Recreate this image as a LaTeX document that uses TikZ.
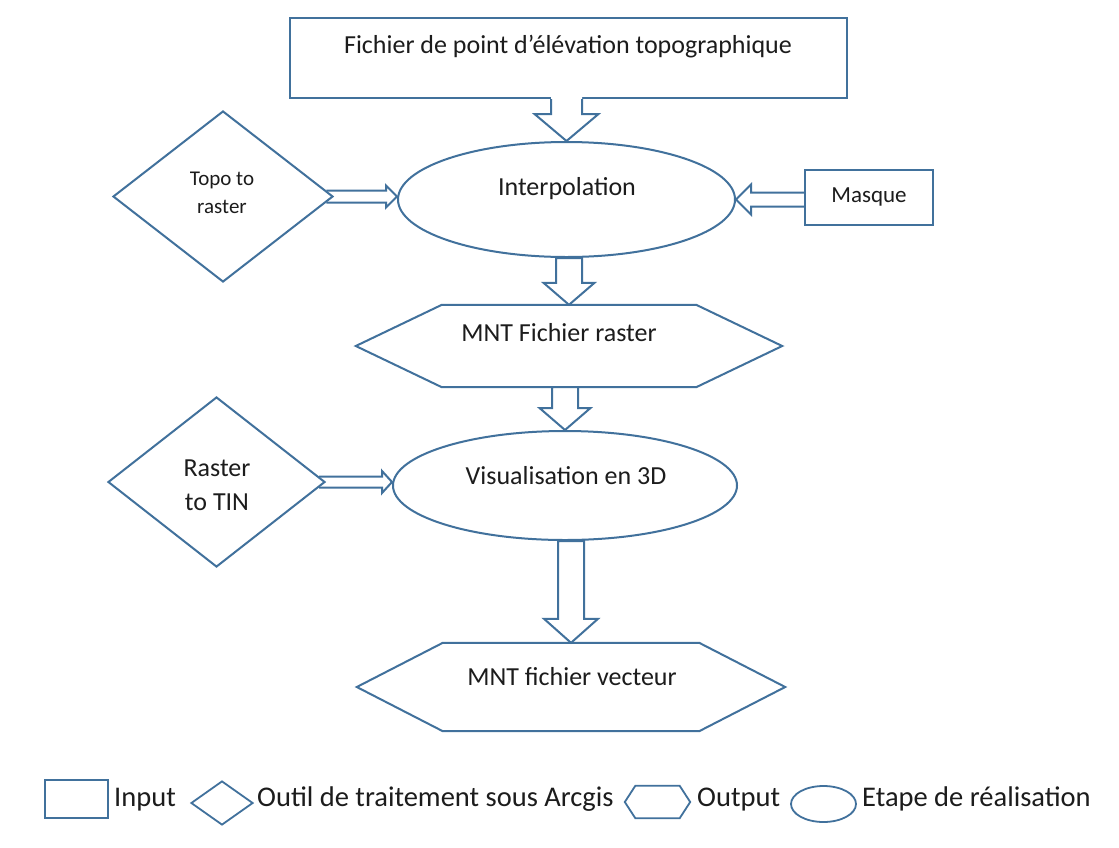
\documentclass[tikz,border=0pt]{standalone}
\usepackage{fontspec}
\setmainfont{Carlito}
\usetikzlibrary{shapes.geometric,calc}
\definecolor{ln}{RGB}{65,113,156}
\definecolor{tx}{RGB}{28,28,28}
\tikzset{
  shp/.style={draw=ln, line width=2pt, fill=white, inner sep=0pt, line join=miter},
  inbox/.style={shp, rectangle},
  ell/.style={shp, ellipse},
  dia/.style={shp, diamond},
  hexb/.style={rectangle, inner sep=0pt, draw=none},
  txt/.style={text=tx, inner sep=0pt, font=\fontsize{26}{31}\selectfont},
  lgtxt/.style={text=tx, inner sep=0pt, font=\fontsize{28.5}{34}\selectfont},
  barr/.style={draw=ln, line width=2pt, line join=miter},
}
% hexagon outline on a bounding node: #1 node, #2 point depth
\newcommand{\hexa}[3][2pt]{\draw[shp, line width=#1] (#2.west) -- ([xshift=#3pt]#2.north west) -- ([xshift=-#3pt]#2.north east) -- (#2.east) -- ([xshift=-#3pt]#2.south east) -- ([xshift=#3pt]#2.south west) -- cycle;}
% downward block arrow: from, tip, shaft half, head half, head length
\newcommand{\varrow}[5]{\draw[barr, fill=white] let \p1=(#1), \p2=(#2) in
  (\x2-#3pt,\y1) -- (\x2-#3pt,\y2+#5pt) -- (\x2-#4pt,\y2+#5pt) -- (\x2,\y2) -- (\x2+#4pt,\y2+#5pt) -- (\x2+#3pt,\y2+#5pt) -- (\x2+#3pt,\y1) -- cycle;}
% rightward open block arrow: from, tip, shaft half, head half, head length, back offset
\newcommand{\rarrow}[6]{\draw[barr] let \p1=(#1), \p2=(#2) in
  (\x1-#6pt,\y2+#3pt) -- (\x2-#5pt,\y2+#3pt) -- (\x2-#5pt,\y2+#4pt) -- (\x2,\y2) -- (\x2-#5pt,\y2-#4pt) -- (\x2-#5pt,\y2-#3pt) -- (\x1-#6pt,\y2-#3pt);}
% leftward open block arrow
\newcommand{\larrow}[6]{\draw[barr] let \p1=(#1), \p2=(#2) in
  (\x1+#6pt,\y2+#3pt) -- (\x2+#5pt,\y2+#3pt) -- (\x2+#5pt,\y2+#4pt) -- (\x2,\y2) -- (\x2+#5pt,\y2-#4pt) -- (\x2+#5pt,\y2-#3pt) -- (\x1+#6pt,\y2-#3pt);}
\begin{document}
\begin{tikzpicture}[x=1pt,y=-1pt]
\useasboundingbox[fill=white] (0,0) rectangle (1119,847);

% top input box
\node[inbox, minimum width=557pt, minimum height=80pt] (top) at (568.5,58) {};
\node[txt] (topT) at (568,47) {Fichier de point d’élévation topographique};

% interpolation
\node[ell, minimum width=337pt, minimum height=115pt] (interp) at (566.5,199.5) {};
\node[txt] (interpT) at (567,189) {Interpolation};

% topo to raster
\node[dia, minimum width=220pt, minimum height=171pt] (topo) at (223,196.5) {};
\node[txt, align=center, font=\fontsize{21}{28}\selectfont] (topoT) at (222,193) {Topo to\\raster};

% masque
\node[inbox, minimum width=128pt, minimum height=55pt] (masq) at (869,197.5) {};
\node[txt, font=\fontsize{23}{28}\selectfont] (masqT) at (869,197) {Masque};

% MNT raster
\node[hexb, minimum width=426pt, minimum height=82pt] (rast) at (569,346) {};
\hexa{rast}{86}
\node[txt] (rastT) at (559,333) {MNT Fichier raster};

% visualisation
\node[ell, minimum width=344pt, minimum height=109pt] (vis) at (565,485.5) {};
\node[txt] (visT) at (566,476) {Visualisation en 3D};

% raster to TIN
\node[dia, minimum width=217pt, minimum height=170pt] (tin) at (216.5,482) {};
\node[txt, align=center, font=\fontsize{26}{34}\selectfont] (tinT) at (217,485) {Raster\\to TIN};

% MNT vecteur
\node[hexb, minimum width=428pt, minimum height=88pt] (vec) at (571,687) {};
\hexa{vec}{86}
\node[txt] (vecT) at (572,677) {MNT fichier vecteur};

% top arrow (open into box)
\fill[white] let \p1=(top.south), \p2=(interp.north) in
  (\x2-15.5pt,\y1+4pt) -- (\x2-15.5pt,\y2+27pt) -- (\x2-32pt,\y2+27pt) -- (\x2,\y2) -- (\x2+32pt,\y2+27pt) -- (\x2+15.5pt,\y2+27pt) -- (\x2+15.5pt,\y1+4pt) -- cycle;
\draw[barr] let \p1=(top.south), \p2=(interp.north) in
  (\x2-15.5pt,\y1) -- (\x2-15.5pt,\y2+27pt) -- (\x2-32pt,\y2+27pt) -- (\x2,\y2) -- (\x2+32pt,\y2+27pt) -- (\x2+15.5pt,\y2+27pt) -- (\x2+15.5pt,\y1);

\varrow{interp.south}{rast.north}{13}{25.5}{22}
\varrow{rast.south}{vis.north}{13}{25.5}{22}
\varrow{vis.south}{vec.north}{13}{27}{24}

\rarrow{topo.east}{interp.west |- topo.east}{6}{11}{11}{7.7}
\larrow{masq.west}{interp.east}{7}{15}{15}{0}
\rarrow{tin.east}{vis.west |- tin.east}{5.5}{11}{10}{7}

% legend
\node[inbox, line width=1.8pt, minimum width=63pt, minimum height=38pt] (lgIn) at (76.5,799) {};
\node[lgtxt, anchor=base west] (lgInT) at (114,806) {Input};
\node[dia, line width=1.8pt, minimum width=62pt, minimum height=44pt] (lgTool) at (222,803) {};
\node[lgtxt, anchor=base west] (lgToolT) at (257,806) {Outil de traitement sous Arcgis};
\node[hexb, minimum width=65pt, minimum height=32pt] (lgOut) at (657.5,802) {};
\hexa[1.8pt]{lgOut}{10.5}
\node[lgtxt, anchor=base west] (lgOutT) at (697,806) {Output};
\node[ell, line width=1.8pt, minimum width=65pt, minimum height=36pt] (lgEt) at (823.5,804) {};
\node[lgtxt, anchor=base west] (lgEtT) at (862,806) {Etape de réalisation};
\end{tikzpicture}
\end{document}
